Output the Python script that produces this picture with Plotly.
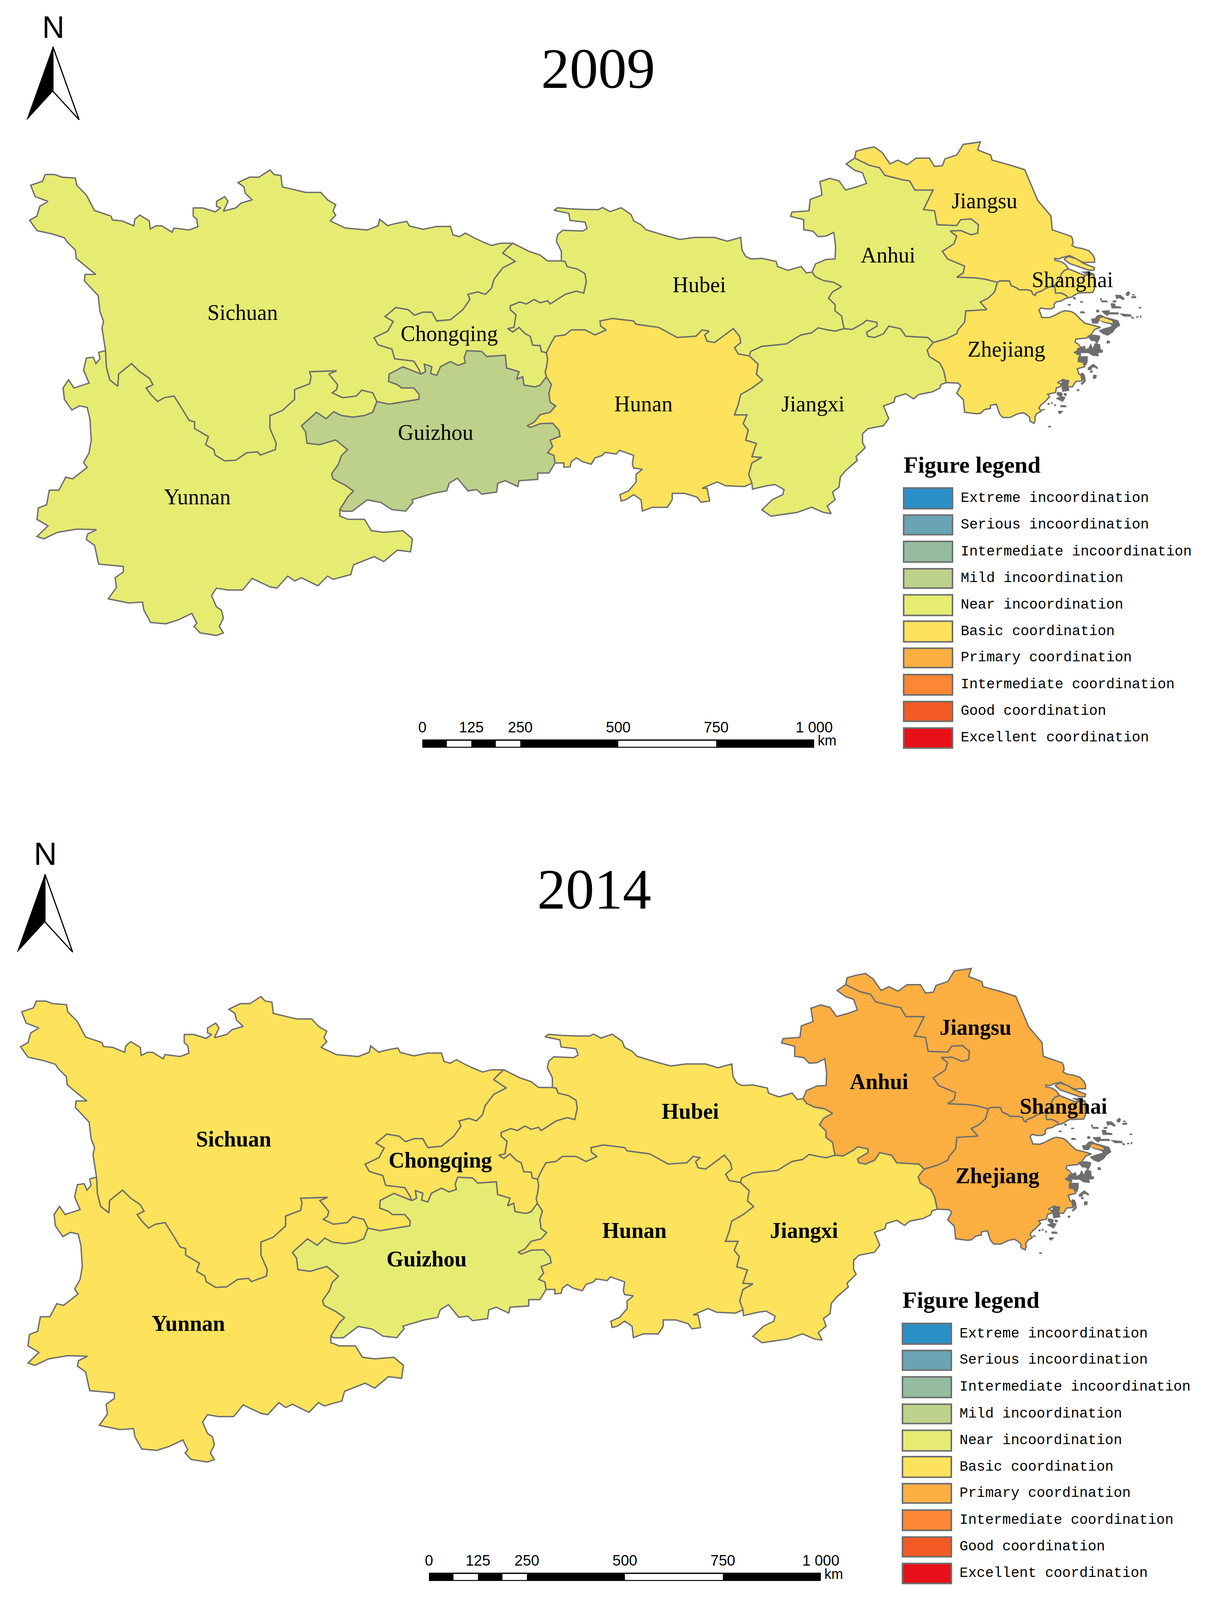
import plotly.graph_objects as go

# ---------- traced province boundaries (each list is in the units of one survey sheet) ----------
SHEETS = {
    "A": (0, 450, 1.4255, 0.98),
    "B": (1000, 400, 1.568, 1.2544),
    "C": (1950, 400, 1.4933, 1.2544),
    "D": (2560, 740, 3.0, 3.0),
    "E": (2500, 1000, 3.0, 3.0),
}

def P(sheet, arr):
    x0, y0, sx, sy = SHEETS[sheet]
    return [(x0 + a / sx, y0 + b / sy) for a, b in arr]

def R(arc):
    return list(reversed(arc))

sichuan_north = P("A", [(385,640),(378,600),(372,570),(378,550),(365,520),(358,470),(335,450),(308,425),(310,405),(350,405),(320,385),(278,355),(275,330),(245,305),(235,292),(190,280),(135,270),(108,238),(135,225),(145,195),(175,180),(128,165),(112,130),(155,118),(165,97),(200,97),(225,105),(275,108),(280,130),(315,160),(345,208),(405,225),(410,237),(445,240),(488,255),(492,235),(510,222),(545,240),(548,265),(570,255),(590,255),(628,275),(635,262),(690,268),(722,258),(718,235),(705,225),(705,200),(740,200),(785,212),(805,200),(790,195),(790,180),(820,165),(832,180),(820,200),(815,210),(860,200),(880,185),(920,175),(895,155),(890,135),(868,122),(910,105),(945,105),(985,83),(1000,97),(1025,100),(1030,135),(1080,145),(1115,152),(1170,152),(1195,175),(1225,190),(1215,210),(1225,222),(1205,240),(1260,262),(1340,268),(1380,255),(1385,235),(1415,255)]) + \
    P("B", [(0,385),(30,378),(65,372),(75,390),(130,403),(185,392),(240,392),(250,425),(275,432),(300,418),(335,437),(375,455),(405,467),(440,458),(490,458)])
sichuan_chongqing = P("B", [(490,458),(465,480),(450,497),(500,530),(450,555),(415,600),(405,635),(380,660),(350,650),(310,660),(318,680),(290,720),(240,760),(185,765),(165,730),(130,730),(95,742),(70,720),(20,712),(5,725)]) + \
    P("A", [(1405,535),(1435,550),(1415,580),(1365,600),(1380,622),(1430,635),(1440,665),(1470,668),(1510,672),(1530,700),(1535,712)])
sichuan_guizhou = P("A", [(1535,712),(1470,690),(1420,712),(1418,735),(1450,745),(1465,755),(1510,755),(1530,775),(1528,790),(1490,795),(1420,805),(1375,797)])
sichuan_yunnan = P("A", [(385,640),(388,690),(400,730),(430,750),(433,712),(465,690),(480,680),(510,705),(545,725),(558,745),(533,755),(550,775),(575,797),(600,785),(635,780),(665,820),(690,855),(710,860),(710,880),(760,905),(750,930),(780,945),(785,962),(820,980),(860,978),(900,955),(940,952),(950,962),(1005,945),(1008,925),(985,880),(985,840),(1030,825),(1075,790),(1075,760),(1130,742),(1135,720),(1130,705),(1190,703),(1228,702),(1200,712),(1232,745),(1228,760),(1212,770),(1250,785),(1300,780),(1320,762),(1360,770),(1375,797)])
guizhou_yunnan = P("A", [(1375,797),(1360,830),(1330,840),(1290,845),(1245,840),(1218,828),(1190,850),(1155,830),(1100,872),(1115,890),(1120,925),(1165,930),(1225,915),(1268,945),(1245,965),(1235,990),(1210,1020),(1215,1035),(1260,1055),(1290,1073),(1270,1090),(1240,1130)])
yunnan_outer = P("A", [(1240,1130),(1240,1150),(1270,1160),(1330,1160),(1355,1195),(1400,1200),(1470,1195),(1505,1220),(1498,1260),(1450,1255),(1400,1290),(1365,1275),(1290,1300),(1280,1330),(1215,1345),(1195,1335),(1160,1365),(1100,1340),(1075,1350),(1050,1335),(1010,1372),(985,1368),(920,1342),(885,1378),(830,1378),(790,1372),(772,1395),(790,1430),(808,1440),(815,1465),(800,1490),(815,1510),(790,1518),(730,1510),(708,1490),(718,1480),(700,1450),(650,1470),(605,1482),(550,1478),(525,1440),(520,1415),(470,1418),(395,1405),(425,1370),(420,1340),(450,1322),(450,1305),(360,1298),(345,1240),(315,1222),(320,1205),(352,1192),(280,1190),(210,1200),(160,1220),(135,1213),(175,1180),(135,1160),(140,1125),(170,1115),(180,1070),(215,1070),(240,1030),(265,1035),(310,1005),(318,1000),(305,985),(325,955),(333,915),(328,850),(318,815),(290,810),(262,823),(235,790),(230,755),(250,730),(270,755),(325,740),(305,700),(315,663),(340,660),(350,680),(365,665),(360,645),(385,640)])
guizhou_south = P("A", [(1240,1130),(1250,1135),(1285,1135),(1340,1100),(1390,1108),(1430,1130)]) + \
    P("B", [(60,1515),(90,1480),(85,1470),(170,1445),(225,1435),(235,1405),(268,1385),(310,1435),(345,1430),(365,1448),(425,1440),(430,1405),(460,1395),(510,1418),(515,1395),(590,1390),(590,1365),(635,1365),(660,1325)])
hunan_guizhou = P("B", [(625,985),(645,1015),(635,1050),(640,1085),(662,1100),(640,1125),(600,1135),(575,1165),(548,1178),(560,1185),(600,1170),(650,1168),(675,1195),(680,1220),(640,1235),(650,1260),(630,1285),(655,1295),(660,1325)])
chongqing_guizhou = P("B", [(625,985),(600,1018),(580,1025),(535,1018),(530,985),(505,995),(515,965),(465,950),(460,900),(385,905),(365,885),(305,882),(295,910),(300,930),(270,940),(240,925),(200,945),(185,980),(160,972),(165,945),(135,935),(140,965),(120,975)])
chongqing_north = P("B", [(490,458),(555,490),(600,505),(630,528),(685,528)])
chongqing_hubei = P("B", [(685,528),(700,530),(708,550),(750,560),(780,578),(785,610),(775,655),(745,647),(700,660),(640,698),(630,685),(600,693),(575,680),(545,698),(518,690),(480,705),(480,720),(503,740),(495,790),(470,795),(490,808),(515,790),(540,815),(560,825),(570,860),(600,862),(605,885),(625,890)])
chongqing_hunan = P("B", [(625,890),(630,915),(625,950),(620,965),(625,985)])
hubei_north = P("B", [(685,528),(685,490),(665,450),(670,425),(690,407),(770,410),(788,400),(780,375),(720,368),(715,340),(655,328),(670,318),(720,322),(790,325),(835,325),(850,317),(880,333),(925,318),(965,345),(975,370),(1005,385),(1025,405),(1100,427),(1160,443),(1220,435),(1300,435),(1350,450),(1405,435),(1410,485),(1425,510),(1445,520),(1490,518)]) + \
    P("C", [(55,530),(60,550),(100,565),(150,550),(170,575),(192,572)])
hubei_anhui = P("C", [(192,572),(205,590),(235,605),(275,612),(305,630),(270,650),(255,675),(280,700),(280,725),(305,745),(310,775),(315,795)])
jiangxi_hubei = P("C", [(315,795),(280,805),(250,800),(215,792),(190,812),(150,820),(125,835),(95,855),(50,860),(0,865)]) + \
    P("B", [(1445,885),(1440,903)])
hunan_hubei = P("B", [(625,890),(645,850),(660,825),(700,820),(725,800),(780,800),(820,820),(865,800),(843,785),(840,765),(890,755),(975,765),(985,778),(1075,790),(1150,830),(1225,825),(1250,800),(1278,805),(1260,820),(1270,845),(1300,850),(1375,795),(1400,825),(1405,850),(1380,870),(1395,895),(1440,903)])
hunan_jiangxi = P("B", [(1440,903),(1475,935),(1468,975),(1493,998),(1450,1030),(1405,1055),(1395,1095),(1380,1135),(1430,1135),(1415,1170),(1435,1195),(1425,1235),(1468,1248),(1450,1300),(1490,1303),(1450,1325),(1437,1370),(1450,1405)])
hunan_south = P("B", [(660,1325),(695,1325),(695,1342),(720,1340),(725,1320),(745,1305),(770,1320),(805,1330),(820,1305),(850,1295),(860,1283),(905,1290),(918,1275),(975,1295),(970,1330),(975,1345),(1010,1350),(985,1370),(985,1400),(955,1435),(920,1450),(925,1475),(945,1470),(975,1450),(1005,1470),(1010,1515),(1050,1500),(1110,1500),(1130,1470),(1130,1445),(1180,1445),(1230,1460),(1245,1480),(1280,1475),(1270,1425),(1250,1425),(1310,1400),(1345,1415),(1420,1418),(1450,1405)])
jiangxi_south = P("B", [(1450,1405),(1452,1428),(1510,1415)]) + \
    P("C", [(50,1410),(85,1430),(80,1450),(40,1470),(0,1510),(35,1535),(70,1530),(135,1520),(190,1500),(235,1520),(265,1525),(250,1495),(280,1470),(270,1440),(295,1420),(300,1380),(320,1355),(365,1315),(360,1300),(395,1265),(385,1245),(385,1210),(405,1190),(465,1178),(485,1150),(465,1100),(505,1085),(510,1065),(550,1052),(580,1072),(600,1055),(650,1045),(680,1030),(685,1015),(705,1008)])
jiangxi_zhejiang = P("C", [(705,1008),(695,960),(680,930),(640,905),(632,880),(655,850)])
jiangxi_anhui = P("C", [(655,850),(635,830),(550,825),(530,795),(485,785),(465,815),(430,830),(405,825),(400,810),(440,785),(440,770),(400,762),(385,775),(345,798),(315,795)])
anhui_north = P("C", [(192,572),(205,540),(245,522),(280,520),(282,470),(275,415),(245,430),(215,432),(195,410),(160,405),(160,365),(110,352),(115,335),(180,330),(185,285),(230,268),(222,215),(260,202),(295,212),(320,248),(365,235),(400,222),(385,180),(355,170),(322,145),(355,122)])
anhui_jiangsu = P("C", [(355,122),(410,150),(450,160),(470,190),(540,208),(565,212),(585,248),(655,248),(635,290),(618,325),(660,330),(670,385),(745,388),(760,365),(800,362),(828,385),(825,418),(800,425),(760,408),(720,410),(745,430),(735,460),(690,490),(710,520),(775,548),(770,575),(745,592),(820,595),(855,600),(900,612)])
anhui_zhejiang = P("C", [(900,612),(890,650),(865,675),(835,690),(860,720),(780,725),(775,770),(750,800),(745,815),(705,835),(655,850)])
jiangsu_outer = P("C", [(355,122),(360,95),(395,85),(430,78),(460,100),(490,145),(520,130),(555,148),(590,122),(640,122),(660,155),(690,152),(700,125),(745,110),(770,68),(835,58),(825,90),(875,110),(880,130),(950,150),(1005,168),(1035,240),(1055,290),(1105,350),(1110,405)]) + \
    P("D", [(545,10),(555,30),(560,75),(550,95),(580,115),(630,125),(680,145),(715,190),(725,220),(725,255),(680,255),(640,258),(600,235),(535,192),(475,210),(450,225),(420,218),(420,235),(470,250),(500,275),(525,318)])
jiangsu_shanghai = P("D", [(525,318),(490,335),(470,365),(455,420),(420,475)])
jiangsu_zhejiang = P("D", [(0,430),(35,432),(70,430),(85,475),(130,500),(145,515),(210,515),(240,525),(250,555),(268,570),(275,545),(320,525),(345,505),(375,490),(420,475)])
shanghai_outer = P("D", [(525,318),(580,345),(640,375),(690,375),(722,372),(722,430),(725,500),(710,540),(600,545),(545,585),(520,590)])
shanghai_zhejiang = P("D", [(420,475),(425,545),(470,545),(510,570),(520,590)])
zhejiang_coast = P("D", [(520,590),(495,600),(470,620),(430,630),(415,650),(415,680),(390,695),(350,695),(315,685),(298,705),(310,740),(320,775),(375,778),(420,755),(465,725),(500,712),(550,722),(580,745),(610,785),(650,830),(700,845),(770,870)]) + \
    P("E", [(905,110),(880,155),(845,190),(800,195),(762,200),(755,230),(778,245),(800,280),(780,305),(752,325),(775,345),(800,345),(782,375),(780,410),(820,420),(830,460),(772,480),(785,530),(800,540),(810,595),(760,600),(735,650),(700,650),(690,595),(665,580),(620,610),(650,625),(640,650),(612,660),(605,705),(545,720),(560,745),(520,795),(495,820),(478,850),(495,880),(460,905),(445,940),(450,965),(440,995),(410,975),(405,935),(375,905),(355,895),(315,905),(280,925),(255,940),(200,940),(175,905),(155,830),(150,815),(105,825),(105,855),(60,865),(30,900),(0,905)]) + \
    P("C", [(775,1125),(770,1075),(745,1050),(760,1020),(750,1010),(705,1008)])
chongming = P("D", [(490,225),(525,200),(590,225),(640,265),(725,305),(720,330),(680,330),(600,295),(530,265),(490,225)])

ISLES_D = [
 [(885,565),(925,565),(955,600),(945,610),(915,590),(895,600)],
 [(965,550),(985,530),(995,545),(985,570),(970,570)],
 [(1008,580),(1040,575),(1043,590),(1010,592)],
 [(1015,558),(1030,558),(1030,565),(1015,565)],
 [(780,618),(820,618),(825,630),(780,630)],
 [(865,620),(890,615),(890,630),(865,630)],
 [(770,595),(778,595),(778,615),(770,615)],
 [(850,645),(880,645),(885,670),(925,675),(930,688),(858,688)],
 [(1065,680),(1082,680),(1082,688),(1065,688)],
 [(618,720),(640,720),(652,735),(618,735)],
 [(740,705),(758,705),(758,725),(740,725)],
 [(780,715),(840,710),(835,730),(905,730),(910,745),(830,745),(825,760),(800,740)],
 [(920,740),(1005,750),(1005,765),(950,765)],
 [(1008,770),(1025,775),(1025,785),(1010,782)],
 [(1045,768),(1060,768),(1060,775),(1045,775)],
 [(1075,760),(1082,760),(1082,775),(1075,775)],
 [(615,625),(635,625),(635,632),(615,632)],
 [(520,652),(540,652),(540,660),(520,660)],
 [(560,585),(578,588),(578,602),(565,600)],
 [(700,790),(730,785),(745,760),(770,750),(800,770),(860,790),(905,805),(920,850),(885,880),(865,915),(825,945),(790,930),(760,900),(800,880),(860,860),(850,840),(790,820),(760,800),(750,830),(710,830)],
 [(625,345),(680,345),(720,365),(690,380)],
]
ISLES_E = [
 [(770,290),(830,265),(835,300),(860,285),(875,245),(890,290),(910,240),(945,250),(950,300),(968,305),(965,325),(930,330),(935,360),(890,355),(860,330),(800,330),(790,345),(750,330),(775,300)],
 [(785,365),(850,365),(850,410),(840,445),(815,440),(830,420),(785,410)],
 [(895,435),(915,455),(930,470),(925,480),(905,465),(885,465),(880,490),(855,490),(855,472)],
 [(895,540),(918,540),(918,565),(895,575)],
 [(800,520),(820,525),(830,550),(835,600),(810,630),(800,620),(825,595),(805,570)],
 [(870,500),(890,500),(885,515),(875,515)],
 [(1000,215),(1020,220),(1022,235),(1000,240)],
 [(620,700),(650,705),(660,720),(650,740),(680,750),(660,790),(610,760),(640,745),(615,720)],
 [(670,710),(690,715),(685,735),(672,730)],
 [(545,805),(558,805),(555,820),(545,815)],
 [(570,795),(585,805),(575,810)],
 [(598,815),(605,815),(605,830),(598,830)],
 [(645,825),(680,825),(690,840),(645,840)],
 [(625,880),(662,880),(640,905),(628,895)],
 [(550,1022),(568,1022),(568,1030),(550,1030)],
 [(500,862),(520,862),(518,870),(500,870)],
 [(770,675),(785,675),(785,688),(770,688)],
 [(655,580),(710,590),(700,640),(710,685),(660,695),(650,640)],
 [(850,170),(900,160),(945,170),(945,190),(925,240),(905,215),(880,215)],
]
ISLETS_TINT_D = [[(762,785),(790,778),(860,810),(865,830),(800,815),(770,805)]]

# ---------- provinces and coordination classes ----------
PROVINCES = ["Sichuan","Yunnan","Chongqing","Guizhou","Hubei","Hunan","Jiangxi","Anhui","Jiangsu","Zhejiang","Shanghai"]
CLASS_2009 = ["Near incoordination","Near incoordination","Near incoordination","Mild incoordination","Near incoordination","Basic coordination","Near incoordination","Near incoordination","Basic coordination","Basic coordination","Basic coordination"]
CLASS_2014 = ["Basic coordination","Basic coordination","Basic coordination","Near incoordination","Basic coordination","Basic coordination","Basic coordination","Primary coordination","Primary coordination","Primary coordination","Primary coordination"]
LABEL_X = [621,505,1150,1115,1790,1647,2081,2273,2520,2576,2745]
LABEL_Y = [989,1569,1055,1366,902,1277,1277,808,638,1105,886]

LEGEND_CLASSES = ["Extreme incoordination","Serious incoordination","Intermediate incoordination","Mild incoordination","Near incoordination","Basic coordination","Primary coordination","Intermediate coordination","Good coordination","Excellent coordination"]
LEGEND_COLORS = ["#2A8FC6","#6AA4B4","#95BC9E","#BED18A","#E6EC72","#FDE25B","#FDAF42","#FB8633","#F45A24","#E81018"]
COLOR_OF = dict(zip(LEGEND_CLASSES, LEGEND_COLORS))

SCALE_KM = [0,125,250,500,750,1000]
SCALE_LABELS = ["0","125","250","500","750","1 000"]
WHITE_KM = [(62.5,125),(187.5,250),(500,750)]

RINGS = {
 "Sichuan": sichuan_north + sichuan_chongqing + sichuan_guizhou + R(sichuan_yunnan),
 "Yunnan": sichuan_yunnan + guizhou_yunnan + yunnan_outer,
 "Chongqing": R(sichuan_chongqing) + chongqing_north + chongqing_hubei + chongqing_hunan + chongqing_guizhou,
 "Guizhou": sichuan_guizhou + guizhou_yunnan + guizhou_south + R(hunan_guizhou) + chongqing_guizhou,
 "Hubei": hubei_north + hubei_anhui + jiangxi_hubei + R(hunan_hubei) + R(chongqing_hubei),
 "Hunan": hunan_hubei + hunan_jiangxi + R(hunan_south) + R(hunan_guizhou) + R(chongqing_hunan),
 "Jiangxi": R(hunan_jiangxi) + R(jiangxi_hubei) + R(jiangxi_anhui) + R(jiangxi_zhejiang) + R(jiangxi_south),
 "Anhui": anhui_north + anhui_jiangsu + anhui_zhejiang + jiangxi_anhui + R(hubei_anhui),
 "Jiangsu": R(anhui_jiangsu) + jiangsu_outer + jiangsu_shanghai + R(jiangsu_zhejiang),
 "Shanghai": R(jiangsu_shanghai) + shanghai_outer + R(shanghai_zhejiang),
 "Zhejiang": jiangsu_zhejiang + shanghai_zhejiang + zhejiang_coast + jiangxi_zhejiang + R(anhui_zhejiang),
}

# ---------- figure ----------
W, H = 3092, 5033
GREY = "#6E6E6E"
SERIF = "Liberation Serif"
SANS = "Liberation Sans"
MONO = "Liberation Mono"
MAP2_DX, MAP2_DY = -23, 2600

fig = go.Figure()

def poly(x, y, fill, line=None, width=0, xa="x", ya="y"):
    fig.add_trace(go.Scatter(x=x, y=y, mode="lines", fill="toself", fillcolor=fill,
                             line=dict(color=line or fill, width=width), hoverinfo="skip",
                             showlegend=False, xaxis=xa, yaxis=ya))

def joined(polys):
    xs, ys = [], []
    for p in polys:
        q = p + [p[0]]
        xs += [a for a, _ in q] + [None]
        ys += [b for _, b in q] + [None]
    return xs, ys

def draw_map(classes, xa, ya, bold):
    colors = dict(zip(PROVINCES, [COLOR_OF[c] for c in classes]))
    for name in PROVINCES:
        ring = RINGS[name] + [RINGS[name][0]]
        poly([a for a, _ in ring], [b for _, b in ring], colors[name], GREY, 3.5, xa, ya)
    poly([a for a, _ in chongming], [b for _, b in chongming], colors["Shanghai"], GREY, 3.5, xa, ya)
    isl = [P("D", i) for i in ISLES_D] + [P("E", i) for i in ISLES_E]
    x, y = joined(isl)
    poly(x, y, GREY, GREY, 1.5, xa, ya)
    x, y = joined([P("D", i) for i in ISLETS_TINT_D])
    poly(x, y, colors["Zhejiang"], colors["Zhejiang"], 0.5, xa, ya)
    fig.add_trace(go.Scatter(x=LABEL_X, y=LABEL_Y, mode="text", text=PROVINCES, textposition="middle center",
                             textfont=dict(family=SERIF, size=56, color="#000", weight="bold" if bold else "normal"),
                             hoverinfo="skip", showlegend=False, xaxis=xa, yaxis=ya))

draw_map(CLASS_2009, "x", "y", False)
draw_map(CLASS_2014, "x2", "y2", True)

def text(xs, ys, labels, family, size, pos="middle center", bold=False):
    fig.add_trace(go.Scatter(x=xs, y=ys, mode="text", text=labels, textposition=pos,
                             textfont=dict(family=family, size=size, color="#000", weight="bold" if bold else "normal"),
                             hoverinfo="skip", showlegend=False))

def north(cx, ytip, half, ynotch, ybase, ylabel, size):
    poly([cx, cx - half, cx, cx], [ytip, ybase, ynotch, ytip], "#000", "#000", 1)
    fig.add_trace(go.Scatter(x=[cx, cx + half, cx, cx], y=[ytip, ybase, ynotch, ytip], mode="lines",
                             fill="toself", fillcolor="#fff", line=dict(color="#000", width=3),
                             hoverinfo="skip", showlegend=False))
    text([cx + 1], [ylabel], ["N"], SANS, size)

north(135.5, 147, 67, 287, 377, 95, 79)
north(115, 2750, 71, 2900, 2995, 2695, 82)
text([1531], [232], ["2009"], SERIF, 146)
text([1521], [2813], ["2014"], SERIF, 146)

def scalebar(x0, ytop):
    k = 1.003
    poly([x0, x0 + 1000 * k, x0 + 1000 * k, x0, x0], [ytop, ytop, ytop + 26, ytop + 26, ytop], "#000")
    for a, b in WHITE_KM:
        xa, xb = x0 + a * k, x0 + b * k
        poly([xa, xb, xb, xa, xa], [ytop + 4, ytop + 4, ytop + 23, ytop + 23, ytop + 4], "#fff")
    text([x0 + km * k for km in SCALE_KM], [ytop - 34] * 6, SCALE_LABELS, SANS, 38)
    text([x0 + 1036], [ytop + 8], ["km"], SANS, 36)

scalebar(1081, 2326)
scalebar(1098, 4947)

SWATCH_TOPS = [1535,1620,1703,1789,1871,1954,2039,2122,2207,2290]
SWATCH_BOTTOMS = [1600,1682,1768,1850,1936,2019,2100,2186,2269,2353]

def legend(dx, dy):
    shapes = []
    for t, b, c in zip(SWATCH_TOPS, SWATCH_BOTTOMS, LEGEND_COLORS):
        shapes.append(dict(type="rect", xref="x", yref="y", x0=2313 + dx, x1=2438 + dx, y0=t + dy, y1=b + dy,
                           fillcolor=c, line=dict(color=GREY, width=4)))
    text([2459 + dx] * 10, [(t + b) / 2 + dy for t, b in zip(SWATCH_TOPS, SWATCH_BOTTOMS)],
         LEGEND_CLASSES, MONO, 36.5, "middle right")
    text([2313 + dx], [1468 + dy], ["Figure legend"], SERIF, 60, "middle right", True)
    return shapes

shapes = legend(0, 0) + legend(-3, 2628)

# The plot fills whatever window it is opened in, so every mark stays in view.
fig.update_layout(
    margin=dict(l=0, r=0, t=0, b=0), autosize=True,
    paper_bgcolor="#fff", plot_bgcolor="#fff", showlegend=False, shapes=shapes,
    xaxis=dict(range=[0, W], visible=False, fixedrange=True),
    yaxis=dict(range=[H, 0], visible=False, fixedrange=True),
    xaxis2=dict(range=[-MAP2_DX, W - MAP2_DX], visible=False, overlaying="x", fixedrange=True),
    yaxis2=dict(range=[H - MAP2_DY, -MAP2_DY], visible=False, overlaying="y", fixedrange=True),
)
fig.write_html("out.html", config={"displayModeBar": False, "responsive": True},
               default_width="100%", default_height="100%",
               post_script="document.documentElement.style.height='100%';document.body.style.height='100%';document.body.style.margin='0';"
                           "var g=document.querySelector('.plotly-graph-div');g.parentElement.style.height='100%';"
                           "Plotly.Plots.resize(g);")
